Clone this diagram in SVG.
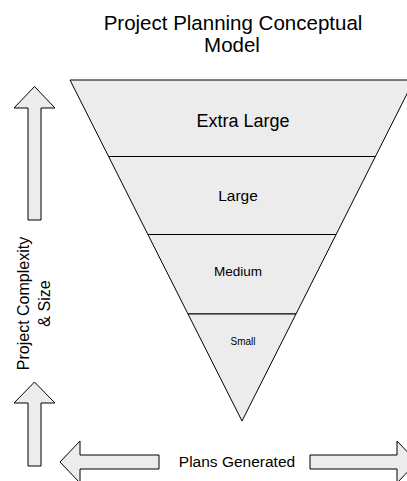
<svg xmlns="http://www.w3.org/2000/svg" width="407" height="481" viewBox="0 0 407 481">
<style>
.shape{fill:#ECECEC;stroke:#000;stroke-width:1;stroke-linejoin:miter}
text{font-family:"Liberation Sans",Arial,sans-serif;fill:#000}
.c{text-anchor:middle}
</style>
<rect width="407" height="481" fill="#fff"/>
<g id="title">
<text class="c" x="233" y="30" font-size="20.5">Project Planning Conceptual</text>
<text class="c" x="232" y="52" font-size="20.5">Model</text>
</g>
<g id="tier-extra-large">
<polygon class="shape" points="70,80 414,80 375.4,156.5 108.6,156.5"/>
<text class="c" x="243" y="127" font-size="18">Extra Large</text>
</g>
<g id="tier-large">
<polygon class="shape" points="108.6,156.5 375.4,156.5 336.1,234.5 147.9,234.5"/>
<text class="c" x="238" y="200.5" font-size="15.5">Large</text>
</g>
<g id="tier-medium">
<polygon class="shape" points="147.9,234.5 336.1,234.5 296,314 188,314"/>
<text class="c" x="238" y="275.5" font-size="13.5">Medium</text>
</g>
<g id="tier-small">
<polygon class="shape" points="188,314 296,314 242,421"/>
<text class="c" x="243" y="345" font-size="10">Small</text>
</g>
<g id="axis-label">
<g transform="translate(0,303.5) rotate(-90)">
<text class="c" x="0" y="29" font-size="16">Project Complexity</text>
<text class="c" x="0" y="50" font-size="16">&amp; Size</text>
</g>
</g>
<g id="plans-label">
<text class="c" x="237" y="467" font-size="15.5">Plans Generated</text>
</g>
<g id="connectors">
<polygon class="shape" points="34.5,86.5 55,108 41,108 41,220 28,220 28,108 14,108"/>
<polygon class="shape" points="34.5,382 55,403 41,403 41,466 28,466 28,403 14,403"/>
<polygon class="shape" points="60,462 80,441 80,455 159,455 159,469 80,469 80,483"/>
<polygon class="shape" points="417,462 397,441 397,455 310,455 310,469 397,469 397,483"/>
</g>
</svg>
